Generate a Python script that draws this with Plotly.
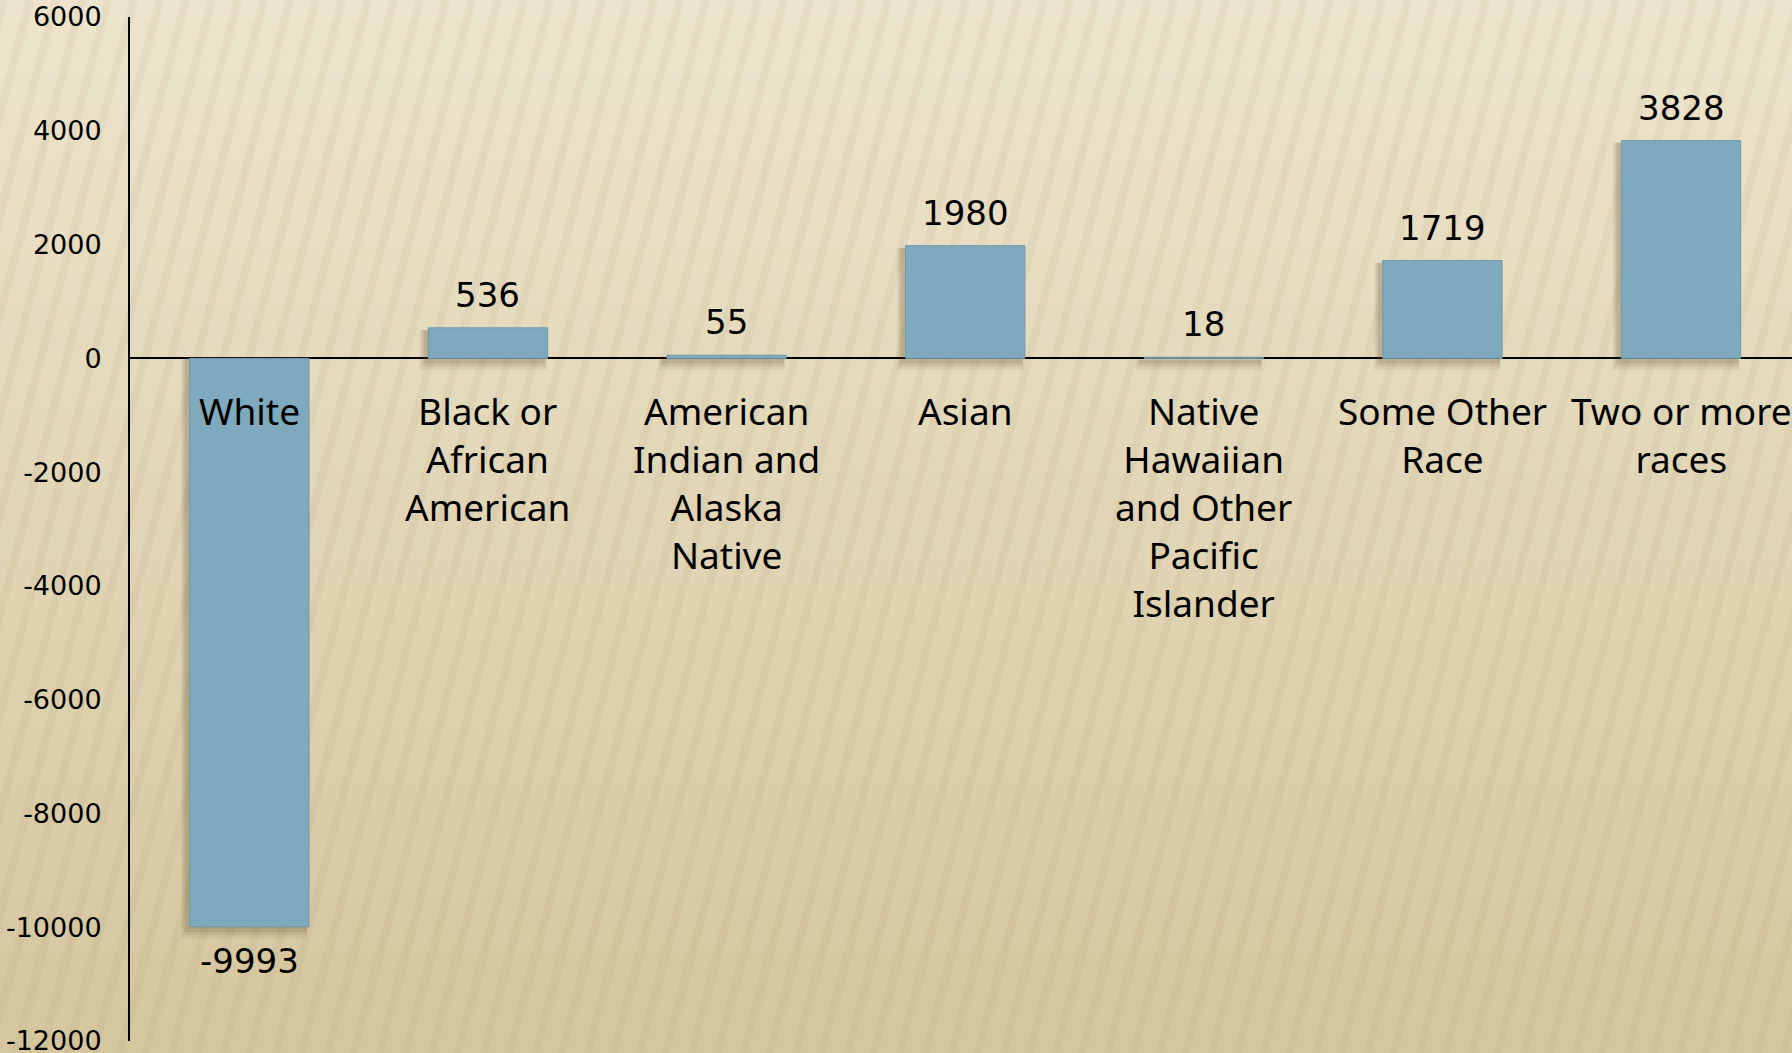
import plotly.graph_objects as go

categories = ["White", "Black or African American", "American Indian and Alaska Native",
              "Asian", "Native Hawaiian and Other Pacific Islander", "Some Other Race",
              "Two or more races"]
category_labels = ["White", "Black or<br>African<br>American", "American<br>Indian and<br>Alaska<br>Native",
                   "Asian", "Native<br>Hawaiian<br>and Other<br>Pacific<br>Islander", "Some Other<br>Race",
                   "Two or more<br>races"]
values = [-9993, 536, 55, 1980, 18, 1719, 3828]
y_ticks = [-12000, -10000, -8000, -6000, -4000, -2000, 0, 2000, 4000, 6000]

W, H = 1792, 1053
L = 130
fig = go.Figure()

# soft drop shadow layers (derived from the same values)
for k, (grow, op) in enumerate([(200, 0.08), (140, 0.10), (90, 0.13)]):
    bases = [0 if v < 0 else -grow for v in values]
    ys = [(v - grow) if v < 0 else (v - 40) for v in values]
    fig.add_trace(go.Bar(
        x=categories, y=[y - b for y, b in zip(ys, bases)], base=bases,
        width=0.5 + 0.01 * (3 - k), offset=-0.262 - 0.008 * (3 - k),
        marker=dict(color=f"rgba(90,70,40,{op})", line=dict(width=0)),
        hoverinfo="skip", showlegend=False))

fig.add_trace(go.Bar(
    x=categories, y=values, width=0.5,
    marker=dict(color="#7FAABD", line=dict(color="#6E98AB", width=1)),
    showlegend=False))

annotations = []
for c, v in zip(categories, values):
    annotations.append(dict(x=c, y=v, xref="x", yref="y", text=str(v), showarrow=False,
                            yanchor="middle", yshift=(33 if v >= 0 else -34),
                            font=dict(family="DejaVu Sans", size=34, color="black")))
for c, lab in zip(categories, category_labels):
    annotations.append(dict(x=c, y=0, xref="x", yref="y", text=lab, showarrow=False,
                            yanchor="top", yshift=-25, align="center",
                            font=dict(family="Noto Sans", size=37, color="black")))

# background: vertical gradient + diagonal stripes (decoration)
shapes = []
top = (237, 229, 206)
bot = (212, 197, 157)
n = 40
for i in range(n):
    t = i / (n - 1)
    col = tuple(int(round(top[j] + (bot[j] - top[j]) * t)) for j in range(3))
    shapes.append(dict(type="rect", xref="paper", yref="paper",
                       x0=-0.2, x1=1.2, y0=1.05 - (i + 1) * 1.1 / n, y1=1.05 - i * 1.1 / n + 0.002,
                       fillcolor=f"rgb{col}", line=dict(width=0), layer="below"))
pw = W - L
ph = H - 17 - 12
step = 26
slope = 0.26
x = -400
while x < W + 100:
    shapes.append(dict(type="line", xref="paper", yref="paper",
                       x0=(x - L) / pw, y0=-12 / ph,
                       x1=(x + slope * H - L) / pw, y1=1 + 17 / ph,
                       line=dict(color="rgba(165,142,98,0.09)", width=8), layer="below"))
    x += step

fig.update_layout(
    width=W, height=H,
    margin=dict(l=L, r=0, t=17, b=12, autoexpand=False),
    paper_bgcolor="#E2D6B4",
    plot_bgcolor="rgba(0,0,0,0)",
    barmode="overlay",
    shapes=shapes,
    annotations=annotations,
    xaxis=dict(showticklabels=False, showgrid=False, zeroline=False, showline=False,
               range=[-0.5, 6.465], automargin=False),
    yaxis=dict(range=[-12000, 6000], tickvals=y_ticks, ticktext=[str(t) for t in y_ticks],
               showgrid=False, zeroline=True, zerolinecolor="black", zerolinewidth=2,
               showline=True, linecolor="black", linewidth=2, ticks="",
               ticklabelstandoff=21, ticklabeloverflow="allow", automargin=False,
               tickfont=dict(family="DejaVu Sans", size=27, color="black")),
)

fig.write_html("out.html", config={"displayModeBar": False},
               post_script="document.body.style.margin='0';document.body.style.overflow='hidden';")
